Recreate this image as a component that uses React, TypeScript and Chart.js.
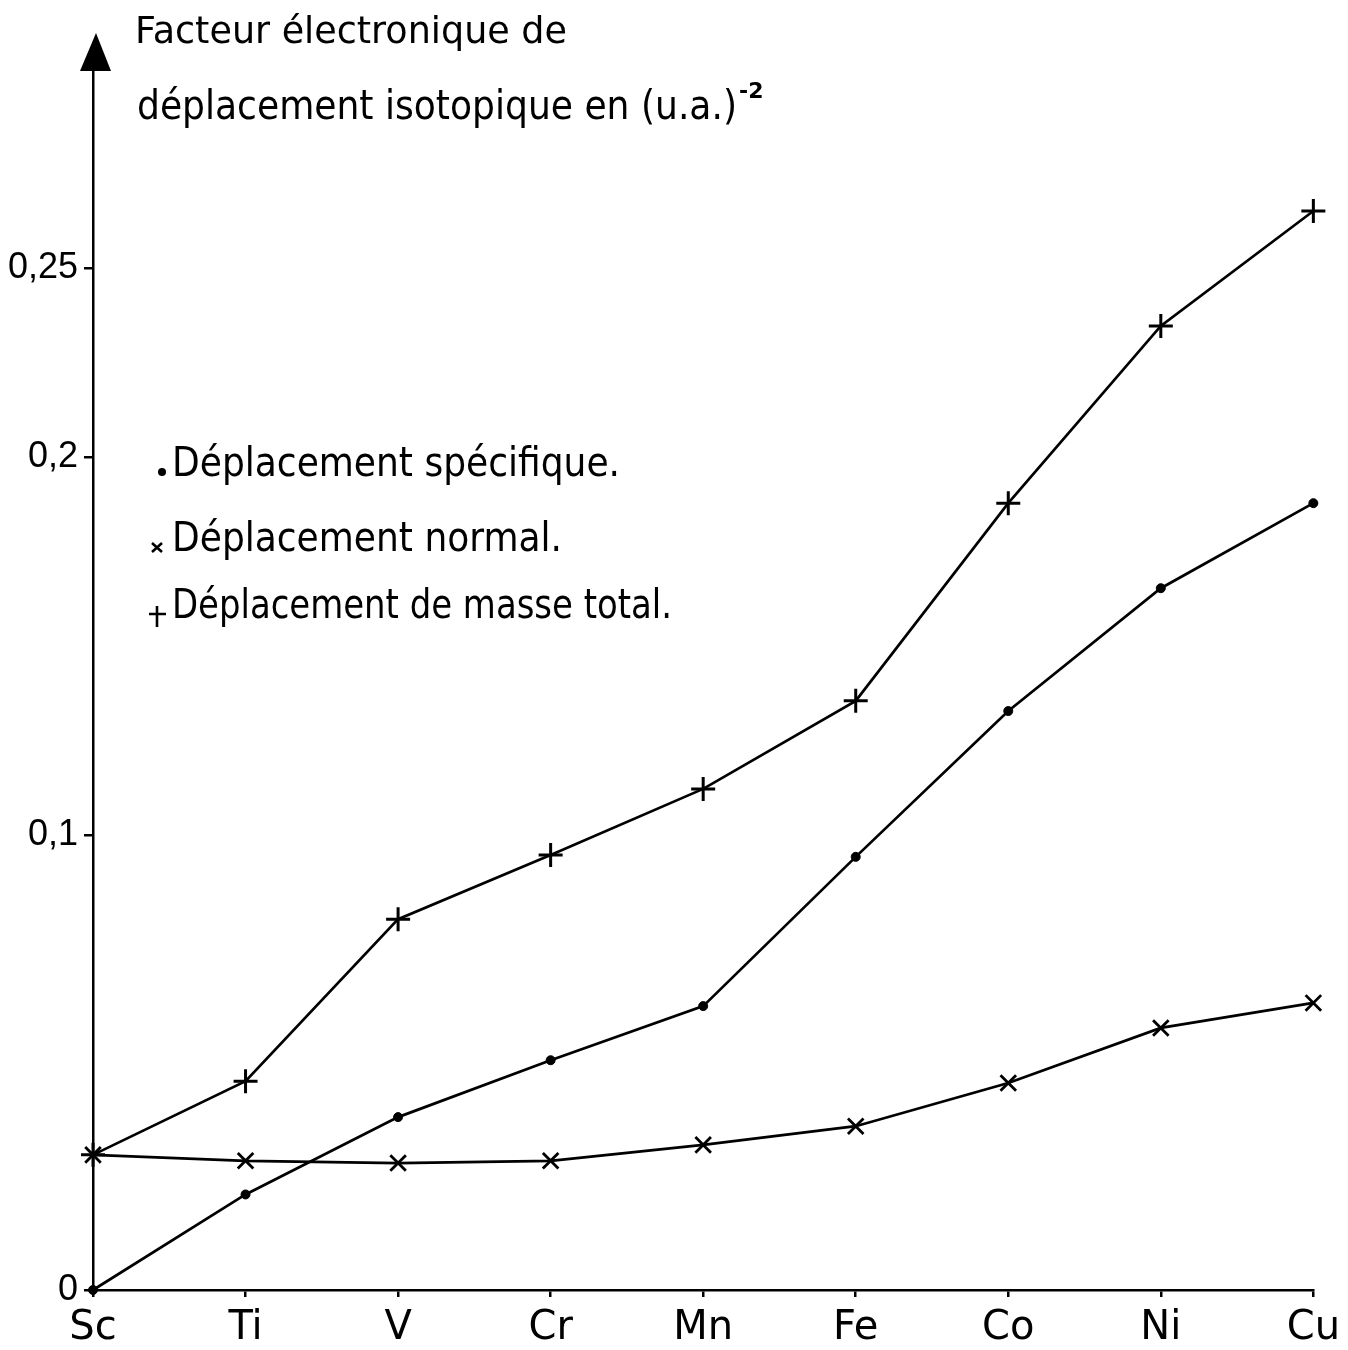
import React, { useEffect, useRef } from "react";
import { Chart, LinearScale, registerables } from "chart.js";

// ---------- data ----------
const CATEGORIES = ["Sc", "Ti", "V", "Cr", "Mn", "Fe", "Co", "Ni", "Cu"];
const SPECIFIC = [0, 0.021, 0.038, 0.0505, 0.0624, 0.0952, 0.1328, 0.1653, 0.1878];
const NORMAL = [0.0297, 0.0284, 0.0279, 0.0284, 0.0319, 0.036, 0.0455, 0.0576, 0.0631];
const TOTAL = [0.0297, 0.0459, 0.0815, 0.0956, 0.1122, 0.1355, 0.1878, 0.2347, 0.2651];
const SERIES_LABELS = [
  "Déplacement spécifique.",
  "Déplacement normal.",
  "Déplacement de masse total.",
];
const Y_TICKS = [0, 0.1, 0.2, 0.25];
const Y_TICK_LABELS = ["0", "0,1", "0,2", "0,25"];
const TITLE_LINE_1 = "Facteur électronique de";
const TITLE_LINE_2 = "déplacement isotopique en (u.a.)";
const TITLE_EXPONENT = "-2";
const Y_MAX = 0.3024;

// The hand-drawn axis: the 0 → 0.1 interval is drawn longer than 0.1 → 0.2.
const LOW_SEGMENT_STRETCH = 455 / 378;
function warp(v: number): number {
  return v <= 0.1 ? v * LOW_SEGMENT_STRETCH : 0.1 * LOW_SEGMENT_STRETCH + (v - 0.1);
}
function unwarp(w: number): number {
  const b = 0.1 * LOW_SEGMENT_STRETCH;
  return w <= b ? w / LOW_SEGMENT_STRETCH : 0.1 + (w - b);
}

class WarpScale extends (LinearScale as any) {
  static id = "warp";
  getPixelForValue(value: number) {
    const self: any = this;
    return self.getPixelForDecimal((warp(value) - warp(self.min)) / (warp(self.max) - warp(self.min)));
  }
  getValueForPixel(pixel: number) {
    const self: any = this;
    const d = self.getDecimalForPixel(pixel);
    return unwarp(warp(self.min) + d * (warp(self.max) - warp(self.min)));
  }
}

Chart.register(...registerables, WarpScale as any);

const FONT = '"DejaVu Sans", "Noto Sans", sans-serif';
const TICK_FONT = '"Liberation Sans", "DejaVu Sans", sans-serif';

function drawFitted(ctx: CanvasRenderingContext2D, text: string, x: number, y: number, width: number, font: string) {
  ctx.save();
  ctx.font = font;
  ctx.textAlign = "left";
  ctx.textBaseline = "alphabetic";
  const w = ctx.measureText(text).width;
  ctx.translate(x, y);
  ctx.scale(width / w, 1);
  ctx.fillText(text, 0, 0);
  ctx.restore();
}

const decorPlugin = {
  id: "decor",
  afterDraw(chart: any) {
    const ctx: CanvasRenderingContext2D = chart.ctx;
    const { left, top } = chart.chartArea;
    ctx.save();
    ctx.fillStyle = "#000";
    ctx.strokeStyle = "#000";
    // arrow head on the y axis
    ctx.beginPath();
    ctx.moveTo(left + 3, top - 37);
    ctx.lineTo(left - 13, top + 1);
    ctx.lineTo(left + 18, top + 1);
    ctx.closePath();
    ctx.fill();

    // axis title
    drawFitted(ctx, TITLE_LINE_1, 135, 43, 432, `38px ${FONT}`);
    drawFitted(ctx, TITLE_LINE_2, 137, 119, 600, `40px ${FONT}`);
    ctx.font = `bold 22px ${FONT}`;
    ctx.fillText(TITLE_EXPONENT, 739, 98);

    // legend
    const rows = [
      { y: 476, w: 448 },
      { y: 551, w: 390 },
      { y: 618, w: 500 },
    ];
    chart.data.datasets.forEach((ds: any, i: number) => {
      const r = rows[i];
      drawFitted(ctx, ds.label, 172, r.y, r.w, `41px ${FONT}`);
      ctx.lineWidth = 2.6;
      if (ds.pointStyle === "circle") {
        ctx.beginPath();
        ctx.arc(162, r.y - 4, 4, 0, Math.PI * 2);
        ctx.fill();
      } else if (ds.pointStyle === "crossRot") {
        ctx.beginPath();
        ctx.moveTo(152, r.y - 8);
        ctx.lineTo(162, r.y + 1);
        ctx.moveTo(162, r.y - 8);
        ctx.lineTo(152, r.y + 1);
        ctx.stroke();
      } else {
        ctx.beginPath();
        ctx.moveTo(149, r.y - 4);
        ctx.lineTo(166, r.y - 4);
        ctx.moveTo(157, r.y - 12);
        ctx.lineTo(157, r.y + 9);
        ctx.stroke();
      }
    });
    ctx.restore();
  },
};

export default function App() {
  const ref = useRef<HTMLCanvasElement | null>(null);
  useEffect(() => {
    if (!ref.current) return;
    const chart = new Chart(ref.current, {
      type: "line",
      data: {
        labels: CATEGORIES,
        datasets: [
          {
            label: SERIES_LABELS[0],
            data: SPECIFIC,
            pointStyle: "circle",
            pointRadius: 4.5,
            pointBackgroundColor: "#000",
            pointBorderColor: "#000",
            pointBorderWidth: 1,
            borderColor: "#000",
            borderWidth: 2.7,
            tension: 0,
            clip: false,
          },
          {
            label: SERIES_LABELS[1],
            data: NORMAL,
            pointStyle: "crossRot",
            pointRadius: 11,
            pointBorderColor: "#000",
            pointBorderWidth: 2.8,
            borderColor: "#000",
            borderWidth: 2.7,
            tension: 0,
            clip: false,
          },
          {
            label: SERIES_LABELS[2],
            data: TOTAL,
            pointStyle: "cross",
            pointRadius: 12,
            pointBorderColor: "#000",
            pointBorderWidth: 3,
            borderColor: "#000",
            borderWidth: 2.7,
            tension: 0,
            clip: false,
          },
        ] as any,
      },
      options: {
        animation: false,
        responsive: false,
        devicePixelRatio: 1,
        layout: { padding: { top: 70, right: 34, left: 0, bottom: 0 } },
        plugins: {
          legend: { display: false },
          tooltip: { enabled: false },
        },
        scales: {
          x: {
            type: "category",
            offset: false,
            grid: { drawOnChartArea: false, drawTicks: true, tickLength: 7, color: "#000", lineWidth: 2.5 },
            border: { display: true, color: "#000", width: 2.5 },
            ticks: { color: "#000", font: { family: FONT, size: 40 }, padding: 8, maxRotation: 0, autoSkip: false },
            afterFit: (s: any) => {
              s.height = 60;
            },
          },
          y: {
            type: "warp" as any,
            min: 0,
            max: Y_MAX,
            afterBuildTicks: (s: any) => {
              s.ticks = Y_TICKS.map((v) => ({ value: v }));
            },
            grid: { drawOnChartArea: false, drawTicks: true, tickLength: 9, color: "#000", lineWidth: 2.5 },
            border: { display: true, color: "#000", width: 2.5 },
            ticks: {
              color: "#000",
              font: { family: TICK_FONT, size: 36 },
              padding: 6,
              callback: (v: any) => {
                const i = Y_TICKS.indexOf(Number(v));
                return i >= 0 ? Y_TICK_LABELS[i] : "";
              },
            },
            afterFit: (s: any) => {
              s.width = 93;
            },
          },
        } as any,
      },
      plugins: [decorPlugin],
    });
    return () => chart.destroy();
  }, []);
  return (
    <div style={{ position: "absolute", left: 0, top: 0, width: 1348, height: 1350, background: "#fff" }}>
      <canvas ref={ref} width={1348} height={1350} style={{ display: "block" }} />
    </div>
  );
}
